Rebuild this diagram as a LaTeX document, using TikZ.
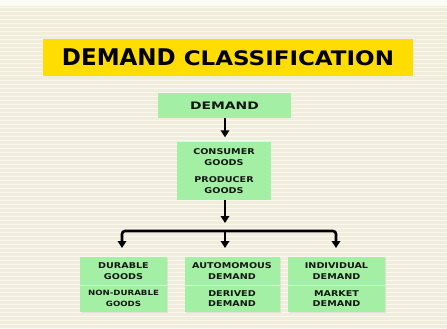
\documentclass[tikz,border=0pt]{standalone}
\usepackage{fontspec}
\setmainfont{DejaVu Sans}
\newfontfamily\fTitle[FakeStretch=1.0]{DejaVu Sans}
\newfontfamily\fClass[FakeStretch=1.15]{DejaVu Sans}
\newfontfamily\fDem[FakeStretch=1.35]{DejaVu Sans}
\newfontfamily\fBox[FakeStretch=1.2]{DejaVu Sans}
\usetikzlibrary{arrows.meta,shadows}
\definecolor{bgcream}{HTML}{F1EDDC}
\definecolor{bgline}{HTML}{F9F7EE}
\definecolor{titleyellow}{HTML}{FFDD00}
\definecolor{boxgreen}{HTML}{A3EFA3}
\definecolor{divgreen}{HTML}{D2F7D2}
\definecolor{inkdark}{HTML}{141814}
\tikzset{
  gbox/.style={fill=boxgreen, inner sep=0pt, align=center, text=inkdark,
    font=\fBox\bfseries\fontsize{8}{10.8}\selectfont},
  gshadow/.style={drop shadow={shadow xshift=1pt, shadow yshift=-1pt, fill=black!25, opacity=0.35}},
  arr/.style={line width=2.6pt, draw=black, -{Triangle[width=8.5pt,length=7pt]}},
  divline/.style={draw=divgreen, line width=0.9pt}
}
\begin{document}
\begin{tikzpicture}[x=1pt,y=-1pt]
\useasboundingbox (0,0) rectangle (447,329);
% background
\fill[bgcream] (0,0) rectangle (447,329);
\fill[white!70!bgcream] (0,0) rectangle (447,6);
\foreach \yy in {8,12,...,329} \draw[bgline, line width=1pt] (0,\yy) -- (447,\yy);

% title
\node[fill=titleyellow, minimum width=370pt, minimum height=37pt, inner sep=0pt, text=black] (title) at (228,57.5)
  {\fTitle\bfseries\fontsize{23}{23}\selectfont DEMAND {\fClass\fontsize{20}{20}\selectfont CLASSIFICATION}};

% demand
\node[gbox, minimum width=133pt, minimum height=25pt, font=\fDem\bfseries\fontsize{10.3}{12}\selectfont] (demand) at (224.5,105.5) {DEMAND};

% consumer / producer
\node[gbox, minimum width=94pt, minimum height=58pt] (consumer) at (224,171)
  {CONSUMER\\GOODS\\[7pt]PRODUCER\\GOODS};

% bottom boxes
\node[gbox, gshadow, minimum width=87pt, minimum height=28pt] (durable) at (123.5,271) {DURABLE\\GOODS};
\node[gbox, gshadow, minimum width=87pt, minimum height=27pt, font=\fBox\bfseries\fontsize{7.2}{10.8}\selectfont] (nondurable) at (123.5,298.5) {NON-DURABLE\\GOODS};
\node[gbox, gshadow, minimum width=95pt, minimum height=28pt] (auto) at (232,271) {AUTOMOMOUS\\DEMAND};
\node[gbox, gshadow, minimum width=95pt, minimum height=27pt] (derived) at (232,298.5) {DERIVED\\DEMAND};
\node[gbox, gshadow, minimum width=97pt, minimum height=28pt] (indiv) at (336.5,271) {INDIVIDUAL\\DEMAND};
\node[gbox, gshadow, minimum width=97pt, minimum height=27pt] (market) at (336.5,298.5) {MARKET\\DEMAND};
\node[gbox, minimum width=87pt, minimum height=28pt] at (123.5,271) {DURABLE\\GOODS};
\node[gbox, minimum width=95pt, minimum height=28pt] at (232,271) {AUTOMOMOUS\\DEMAND};
\node[gbox, minimum width=97pt, minimum height=28pt] at (336.5,271) {INDIVIDUAL\\DEMAND};

\draw[divline] (durable.south west) -- (durable.south east);
\draw[divline] (auto.south west) -- (auto.south east);
\draw[divline] (indiv.south west) -- (indiv.south east);

% connectors
\coordinate (barM) at (225,231);
\coordinate (tipL) at (122,248);
\coordinate (tipM) at (225,248);
\coordinate (tipR) at (336,248);
\draw[arr, shorten >=4.5pt] (demand.south -| barM) -- (consumer.north -| barM);
\draw[arr, shorten >=8pt] (consumer.south -| barM) -- (barM);
\draw[arr, rounded corners=3pt] (barM) -| (tipL);
\draw[arr, rounded corners=3pt] (barM) -| (tipR);
\draw[arr] (barM) -- (tipM);
\end{tikzpicture}
\end{document}
